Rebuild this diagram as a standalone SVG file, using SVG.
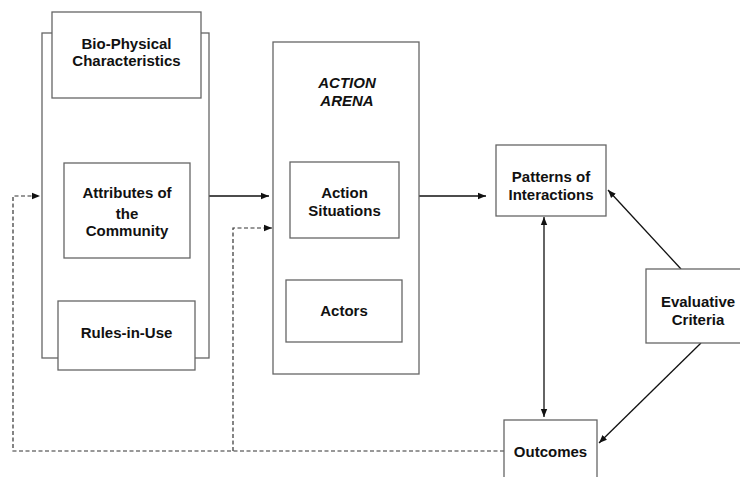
<svg xmlns="http://www.w3.org/2000/svg" width="740" height="477" viewBox="0 0 740 477">
<defs>
<style>
.box{fill:#fff;stroke:#666;stroke-width:1.3}
.t{font-family:"Liberation Sans",Arial,sans-serif;font-weight:bold;font-size:15px;fill:#111;text-anchor:middle}
.it{font-style:italic}
.ln{fill:none;stroke:#111;stroke-width:1.3}
.dash{fill:none;stroke:#333;stroke-width:1.2;stroke-dasharray:4 2.5}
</style>
<marker id="ah" viewBox="0 0 10 10" refX="10" refY="5" markerWidth="8" markerHeight="8" markerUnits="userSpaceOnUse" orient="auto-start-reverse">
<path d="M0,1 L10,5 L0,9 z" fill="#111"/>
</marker>
</defs>
<rect width="740" height="477" fill="#fff"/>
<g id="connectors">
<line class="ln" x1="209" y1="196" x2="269" y2="196" marker-end="url(#ah)"/>
<line class="ln" x1="419" y1="196" x2="486" y2="196" marker-end="url(#ah)"/>
<line class="ln" x1="544" y1="217" x2="544" y2="417" marker-start="url(#ah)" marker-end="url(#ah)"/>
<line class="ln" x1="681" y1="269" x2="608" y2="190" marker-end="url(#ah)"/>
<line class="ln" x1="701" y1="343" x2="599" y2="443" marker-end="url(#ah)"/>
<polyline class="dash" points="504,451 13,451 13,196 40,196" marker-end="url(#ah)"/>
<polyline class="dash" points="233,451 233,228 272,228" marker-end="url(#ah)"/>
</g>
<g id="context">
<rect class="box" x="42" y="33" width="167" height="325"/>
</g>
<g id="biophysical">
<rect class="box" x="52" y="12" width="149" height="86"/>
<text class="t" x="126.5" y="49">Bio-Physical</text>
<text class="t" x="126.5" y="66">Characteristics</text>
</g>
<g id="attributes">
<rect class="box" x="64" y="163" width="126" height="95"/>
<text class="t" x="127" y="198">Attributes of</text>
<text class="t" x="127" y="219">the</text>
<text class="t" x="127" y="236">Community</text>
</g>
<g id="rules">
<rect class="box" x="58" y="301" width="137" height="69"/>
<text class="t" x="126.5" y="338">Rules-in-Use</text>
</g>
<g id="arena">
<rect class="box" x="273" y="42" width="146" height="332"/>
<text class="t it" x="347" y="88">ACTION</text>
<text class="t it" x="347" y="106">ARENA</text>
</g>
<g id="situations">
<rect class="box" x="290" y="162" width="109" height="76"/>
<text class="t" x="344.5" y="198">Action</text>
<text class="t" x="344.5" y="216">Situations</text>
</g>
<g id="actors">
<rect class="box" x="286" y="280" width="116" height="62"/>
<text class="t" x="344" y="316">Actors</text>
</g>
<g id="patterns">
<rect class="box" x="496" y="145" width="110" height="71"/>
<text class="t" x="551" y="182">Patterns of</text>
<text class="t" x="551" y="200">Interactions</text>
</g>
<g id="evaluative">
<rect class="box" x="646" y="269" width="100" height="74"/>
<text class="t" x="698" y="307">Evaluative</text>
<text class="t" x="698" y="325">Criteria</text>
</g>
<g id="outcomes">
<rect class="box" x="504" y="420" width="93" height="70"/>
<text class="t" x="550.5" y="457">Outcomes</text>
</g>
</svg>
